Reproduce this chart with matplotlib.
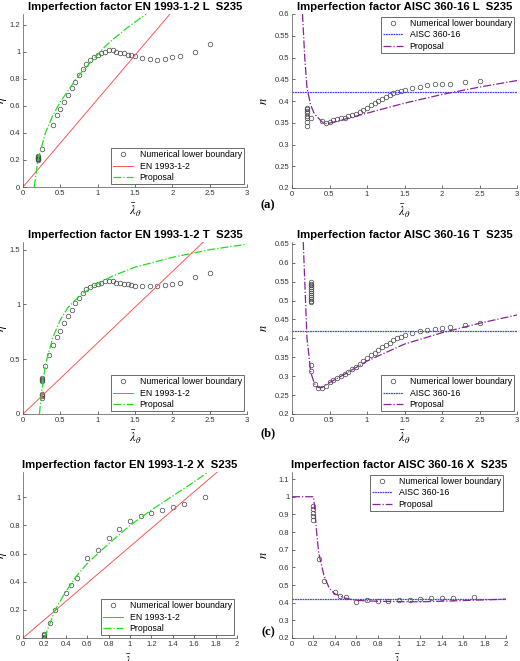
import matplotlib
matplotlib.use("Agg")
import matplotlib.pyplot as plt
import numpy as np

plt.rcParams['font.family'] = ['Liberation Sans', 'DejaVu Sans']
plt.rcParams['mathtext.fontset'] = 'stix'

# ---------------- data ----------------
# L section, EN
L_en_num_x = [0.2]*6 + [0.25,0.4,0.45,0.5,0.55,0.6,0.65,0.7,0.75,0.8,0.85,0.9,0.95,1.0,1.05,1.1,1.15,1.2,1.25,1.3,1.35,1.4,1.45,1.5,1.6,1.7,1.8,1.9,2.0,2.1,2.3,2.5]
L_en_num_y = [0.2,0.205,0.21,0.215,0.22,0.23,0.28,0.46,0.53,0.58,0.63,0.68,0.73,0.78,0.83,0.87,0.91,0.94,0.96,0.98,0.99,1.0,1.01,1.01,1.0,0.995,0.99,0.98,0.975,0.97,0.955,0.95,0.94,0.945,0.96,0.97,1.0,1.06]
L_en_prop_x = [0.15,0.2,0.3,0.4,0.5,0.6,0.7,0.8,0.9,1.0,1.1,1.2,1.4,1.65]
L_en_prop_y = [0.0,0.2,0.4,0.53,0.63,0.71,0.79,0.86,0.92,0.98,1.04,1.09,1.18,1.28]
# L section, AISC
L_ai_num_x = [0.2]*8 + [0.25,0.4,0.45,0.5,0.55,0.6,0.65,0.7,0.75,0.8,0.85,0.9,0.95,1.0,1.05,1.1,1.15,1.2,1.25,1.3,1.35,1.4,1.45,1.5,1.6,1.7,1.8,1.9,2.0,2.1,2.3,2.5]
L_ai_num_y = [0.343,0.352,0.36,0.366,0.372,0.377,0.381,0.385,0.36,0.355,0.35,0.352,0.356,0.358,0.36,0.362,0.365,0.367,0.37,0.375,0.38,0.385,0.39,0.395,0.4,0.405,0.41,0.414,0.418,0.421,0.424,0.426,0.43,0.433,0.436,0.438,0.439,0.44,0.444,0.447]
L_ai_prop_x = [0.14,0.17,0.2,0.25,0.3,0.4,0.45,0.5,0.7,1.0,1.5,2.0,2.5,3.0]
L_ai_prop_y = [0.6,0.5,0.43,0.39,0.37,0.352,0.348,0.349,0.358,0.372,0.395,0.415,0.432,0.447]
# T section, EN
T_en_num_x = [0.25]*8 + [0.3,0.35,0.4,0.45,0.5,0.55,0.6,0.65,0.7,0.75,0.8,0.85,0.9,0.95,1.0,1.05,1.1,1.15,1.2,1.25,1.3,1.35,1.4,1.45,1.5,1.6,1.7,1.8,1.9,2.0,2.1,2.3,2.5]
T_en_num_y = [0.15,0.16,0.17,0.18,0.30,0.31,0.32,0.33,0.44,0.54,0.63,0.7,0.76,0.83,0.89,0.95,1.01,1.06,1.1,1.14,1.16,1.18,1.19,1.2,1.21,1.21,1.21,1.2,1.195,1.19,1.185,1.18,1.17,1.17,1.165,1.17,1.18,1.19,1.2,1.25,1.29]
T_en_prop_x = [0.22,0.25,0.3,0.4,0.5,0.6,0.7,0.8,1.0,1.2,1.5,2.0,2.5,3.0]
T_en_prop_y = [0.0,0.2,0.45,0.7,0.86,0.97,1.04,1.1,1.19,1.26,1.34,1.43,1.5,1.55]
# T section, AISC
T_ai_num_x = [0.25]*14 + [0.3,0.35,0.4,0.45,0.5,0.55,0.6,0.65,0.7,0.75,0.8,0.85,0.9,0.95,1.0,1.05,1.1,1.15,1.2,1.25,1.3,1.35,1.4,1.45,1.5,1.6,1.7,1.8,1.9,2.0,2.1,2.3,2.5]
T_ai_num_y = [0.315,0.33,0.495,0.5,0.505,0.51,0.515,0.52,0.525,0.53,0.535,0.54,0.545,0.548,0.28,0.27,0.27,0.275,0.285,0.29,0.295,0.3,0.305,0.31,0.318,0.325,0.332,0.34,0.348,0.355,0.362,0.37,0.377,0.383,0.389,0.395,0.4,0.405,0.408,0.414,0.419,0.422,0.425,0.427,0.43,0.436,0.44]
T_ai_prop_x = [0.15,0.18,0.2,0.25,0.3,0.35,0.4,0.5,0.7,1.0,1.5,2.0,2.5,3.0]
T_ai_prop_y = [0.655,0.5,0.4,0.31,0.28,0.27,0.27,0.283,0.305,0.34,0.385,0.415,0.44,0.462]
# X section, EN
X_en_num_x = [0.2]*4 + [0.25,0.3,0.4,0.45,0.5,0.6,0.7,0.8,0.9,1.0,1.1,1.2,1.3,1.4,1.5,1.7]
X_en_num_y = [0.0,0.01,0.02,0.03,0.11,0.2,0.32,0.38,0.43,0.57,0.625,0.71,0.775,0.83,0.865,0.89,0.91,0.93,0.95,1.0]
X_en_prop_x = [0.2,0.25,0.3,0.4,0.5,0.6,0.8,1.0,1.2,1.4,1.6,1.73]
X_en_prop_y = [0.0,0.1,0.2,0.33,0.44,0.53,0.67,0.8,0.91,1.01,1.11,1.18]
# X section, AISC
X_ai_num_x = [0.2]*5 + [0.25,0.3,0.4,0.45,0.5,0.6,0.7,0.8,0.9,1.0,1.1,1.2,1.3,1.4,1.5,1.7]
X_ai_num_y = [0.87,0.89,0.91,0.93,0.95,0.645,0.52,0.46,0.44,0.43,0.405,0.415,0.41,0.41,0.413,0.418,0.42,0.425,0.425,0.427,0.43]
X_ai_prop_x = [0.0,0.2,0.21,0.23,0.25,0.3,0.35,0.4,0.5,0.6,0.8,1.0,1.2,1.5,2.0]
X_ai_prop_y = [1.0,1.0,0.95,0.8,0.68,0.55,0.48,0.45,0.425,0.413,0.408,0.406,0.405,0.41,0.42]

en_slope = 0.65
aisc_n = 0.42

fig = plt.figure(figsize=(5.2, 6.61), dpi=100)
W, H = 520, 661

def ax_at(x0, y0, x1, y1):
    ax = fig.add_axes([x0/W, 1-y1/H, (x1-x0)/W, (y1-y0)/H])
    ax._pxw = x1 - x0; ax._pxh = y1 - y0
    return ax

def style(ax, title, ylab, xlim, ylim, xt, yt, ylab_off):
    ax.set_xlim(xlim); ax.set_ylim(ylim)
    ax.set_xticks(xt); ax.set_yticks(yt)
    ax.set_xticklabels([('%g' % v) for v in xt])
    ax.set_yticklabels([('%g' % v) for v in yt])
    ax.tick_params(direction='in', labelsize=5.5, length=2, width=0.5, colors='#333333', pad=2)
    for s in ['top', 'right']:
        ax.spines[s].set_visible(False)
    for s in ['left', 'bottom']:
        ax.spines[s].set_linewidth(0.5); ax.spines[s].set_color('#555555')
    ax.set_title(title, fontsize=8.2, fontweight='bold', pad=3)
    ax.set_ylabel(ylab, fontsize=9)
    ax.yaxis.set_label_coords(-ylab_off/ax._pxw, 0.5)
    ax.set_xlabel(r'$\bar{\lambda}_\theta$', fontsize=9)
    ax.xaxis.set_label_coords(0.5, -15/ax._pxh)

def leg(ax, loc):
    l = ax.legend(loc=loc, fontsize=6.3, fancybox=False, framealpha=1, edgecolor='#555555',
                  borderpad=0.3, labelspacing=0.25, handlelength=2.2, borderaxespad=0.3)
    l.get_frame().set_linewidth(0.6)

mk = dict(ls='none', marker='o', mfc='none', mec='#444444', ms=3.3, mew=0.5, label='Numerical lower boundary')

def en_panel(ax, nx, ny, px, py, title, xmax, ymax, xt, yt):
    ax.plot(nx, ny, **mk)
    ax.plot([0, xmax], [0, en_slope*xmax], color='#ff5555', lw=0.7, label='EN 1993-1-2')
    ax.plot(px, py, color='#22dd22', lw=0.9, ls='-.', label='Proposal')
    style(ax, title, r'$\eta$', (0, xmax), (0, ymax), xt, yt, 14)
    leg(ax, 'lower right')

def ai_panel(ax, nx, ny, px, py, title, xmax, ylim, xt, yt, loc):
    ax.plot(nx, ny, **mk)
    ax.axhline(aisc_n, color='#4444ff', lw=0.9, ls=(0, (1.5, 0.5)), label='AISC 360-16')
    ax.plot(px, py, color='#882299', lw=0.9, ls='-.', label='Proposal')
    style(ax, title, r'$n$', (0, xmax), ylim, xt, yt, 22)
    leg(ax, loc)

x3 = [0, 0.5, 1, 1.5, 2, 2.5, 3]
x2 = [0, 0.2, 0.4, 0.6, 0.8, 1, 1.2, 1.4, 1.6, 1.8, 2]

a = ax_at(23, 14, 247, 187)
en_panel(a, L_en_num_x, L_en_num_y, L_en_prop_x, L_en_prop_y,
         'Imperfection factor EN 1993-1-2 L  S235', 3, 1.28, x3, [0, 0.2, 0.4, 0.6, 0.8, 1, 1.2])
a = ax_at(292, 14, 517, 188)
ai_panel(a, L_ai_num_x, L_ai_num_y, L_ai_prop_x, L_ai_prop_y,
         'Imperfection factor AISC 360-16 L  S235', 3, (0.2, 0.6), x3,
         [0.2, 0.25, 0.3, 0.35, 0.4, 0.45, 0.5, 0.55, 0.6], 'upper right')
a = ax_at(23, 242, 247, 414)
en_panel(a, T_en_num_x, T_en_num_y, T_en_prop_x, T_en_prop_y,
         'Imperfection factor EN 1993-1-2 T  S235', 3, 1.57, x3, [0, 0.5, 1, 1.5])
a = ax_at(292, 242, 517, 414)
ai_panel(a, T_ai_num_x, T_ai_num_y, T_ai_prop_x, T_ai_prop_y,
         'Imperfection factor AISC 360-16 T  S235', 3, (0.2, 0.655), x3,
         [0.2, 0.25, 0.3, 0.35, 0.4, 0.45, 0.5, 0.55, 0.6, 0.65], 'lower right')
a = ax_at(23, 472, 237, 638)
en_panel(a, X_en_num_x, X_en_num_y, X_en_prop_x, X_en_prop_y,
         'Imperfection factor EN 1993-1-2 X  S235', 2, 1.18, x2, [0, 0.2, 0.4, 0.6, 0.8, 1])
a = ax_at(292, 472, 506, 638)
ai_panel(a, X_ai_num_x, X_ai_num_y, X_ai_prop_x, X_ai_prop_y,
         'Imperfection factor AISC 360-16 X  S235', 2, (0.2, 1.14), x2,
         [0.2, 0.3, 0.4, 0.5, 0.6, 0.7, 0.8, 0.9, 1, 1.1], 'upper right')

for lab, y in [('(a)', 205), ('(b)', 433), ('(c)', 632)]:
    fig.text(268/W, 1-y/H, lab, fontsize=9, fontweight='bold', family='Liberation Serif',
             ha='center', va='center')

fig.savefig('out.png', dpi=100)
